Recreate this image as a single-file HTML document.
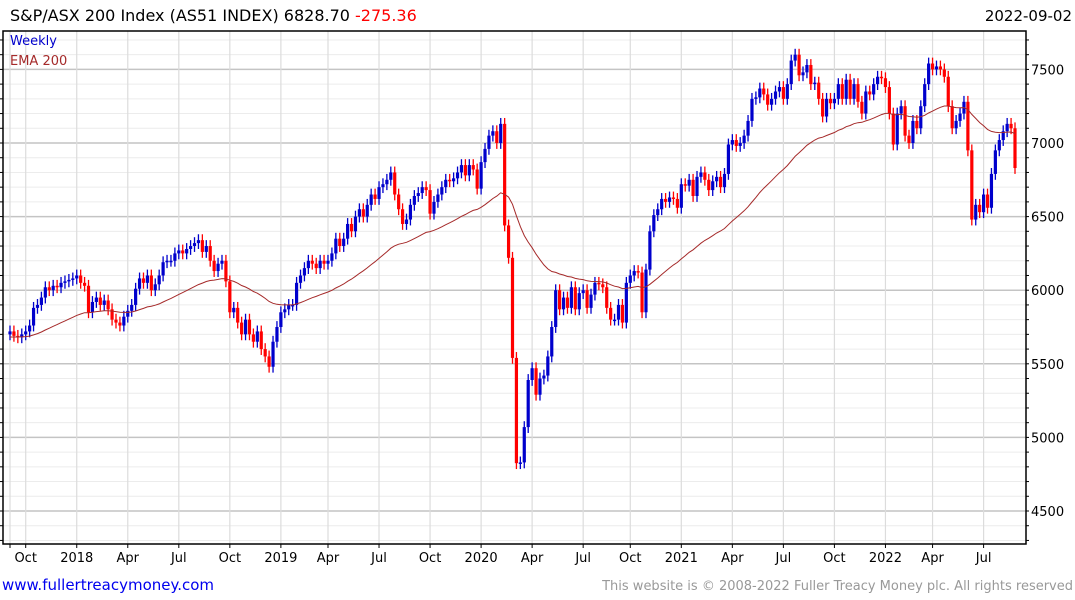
<!DOCTYPE html>
<html><head><meta charset="utf-8"><style>
html,body{margin:0;padding:0;background:#fff;width:1075px;height:600px;overflow:hidden}
svg{display:block;font-family:"DejaVu Sans","Liberation Sans",sans-serif}
</style></head><body>
<svg id="chart" width="1075" height="600" viewBox="0 0 1075 600" xmlns="http://www.w3.org/2000/svg">
<text x="10" y="21" font-size="16" fill="#000">S&amp;P/ASX 200 Index (AS51 INDEX) 6828.70 <tspan fill="#ff0000">-275.36</tspan></text>
<text x="1072" y="21" font-size="15" fill="#000" text-anchor="end">2022-09-02</text>
<g id="grid"></g>
<g id="candles"></g>
<path id="ema" fill="none" stroke="#a52a2a" stroke-width="1"></path>
<g id="axes"></g>
<text x="10" y="45" font-size="13" fill="#0000cc">Weekly</text>
<text x="10" y="65" font-size="13" fill="#a52a2a">EMA 200</text>
<text x="2" y="590" font-size="15" fill="#0000ee">www.fullertreacymoney.com</text>
<text x="1073" y="590" font-size="13" fill="#999" text-anchor="end">This website is © 2008-2022 Fuller Treacy Money plc. All rights reserved</text>
</svg>
<script>
const closes = [5720,5690,5680,
5700,5720,5760,5880,5900,5950,6020,6000,6030,6020,6050,6060,6070,
6080,6100,6050,6030,5850,5920,5950,5900,5930,5870,5800,5780,5760,
5820,5860,5900,6010,6080,6050,6100,6000,6040,6100,6190,6200,6200,
6250,6270,6250,6280,6300,6320,6340,6260,6300,6200,6130,6180,6200,
6060,5850,5880,5780,5700,5800,5700,5650,5720,5600,5550,5480,5650,
5750,5850,5870,5900,5900,6050,6100,6150,6200,6180,6150,6200,6180,
6200,6250,6350,6300,6350,6450,6400,6500,6550,6500,6580,6650,6620,
6700,6720,6750,6800,6650,6550,6450,6480,6580,6640,6660,6700,6680,
6520,6600,6650,6700,6750,6740,6760,6800,6850,6780,6850,6820,6690,
6870,6960,7050,7080,7000,7130,6440,6220,5540,4825,4830,5070,5390,
5470,5290,5400,5420,5550,5750,6000,5870,5950,5880,6020,5870,5980,
6000,5880,5970,6050,6040,6020,5880,5800,5800,5900,5780,6050,
6100,6130,6120,5850,6140,6400,6510,6550,6620,6600,6630,6620,6560,
6720,6710,6750,6640,6770,6800,6750,6680,6740,6770,6700,6790,6990,
7020,6980,7000,7050,7150,7300,7310,7370,7330,7260,7300,7350,7380,
7300,7400,7560,7600,7460,7480,7530,7400,7410,7300,7180,7300,7270,
7300,7400,7300,7430,7300,7400,7280,7200,7350,7330,7400,7450,7440,
7380,7200,6990,7200,7250,7050,7000,7150,7100,7250,7400,7540,7500,
7520,7500,7450,7250,7100,7150,7200,7280,6950,6480,6580,6530,6650,
6560,6790,6950,7020,7080,7130,7100,6830];
const firstOpen = 5700;
const emaSeed = 5680;
const yTicks = [4500,5000,5500,6000,6500,7000,7500];
const xTickLabels = ["Oct","2018","Apr","Jul","Oct","2019","Apr","Jul","Oct","2020","Apr","Jul","Oct","2021","Apr","Jul","Oct","2022","Apr","Jul"];
const xTickWeeks = [4,17,30,43,56,69,81,94,107,120,133,146,158,171,184,197,210,223,235,248];

const NS="http://www.w3.org/2000/svg";
const L=3,R=1026,T=31,B=544;
const X0=10,X1=1015;
function xs(i){return X0+i*(X1-X0)/(closes.length-1);}
function ys(v){return 143-(v-7000)*0.1472;}
function mk(tag,attrs,parent){const e=document.createElementNS(NS,tag);for(const k in attrs)e.setAttribute(k,attrs[k]);parent.appendChild(e);return e;}
const grid=document.getElementById('grid'),cg=document.getElementById('candles'),ax=document.getElementById('axes');
for(let v=4300;v<=7700;v+=100){const y=ys(v);if(y<T||y>B)continue;
 const major=v%500===0;
 const l=mk('line',{x1:L,x2:R,y1:y,y2:y,stroke:major?'#c4c4c4':'#ececec','stroke-width':major?1.5:1},grid);
 
 
}
xTickWeeks.forEach((w,k)=>{const x=xs(w);
 const l=mk('line',{x1:x,x2:x,y1:T,y2:B,stroke:'#dcdcdc','stroke-width':1.2},grid);
 
 
 const t=mk('text',{x:x,y:562,'font-size':13,'text-anchor':'middle',fill:'#000'},ax);
 t.textContent=xTickLabels[k];
 
 
});
const vl=mk('line',{x1:10,x2:10,y1:T,y2:B,stroke:'#dcdcdc','stroke-width':1.2},grid);


let prev=firstOpen;
closes.forEach((c,i)=>{const o=prev;prev=c;const x=xs(i);
 const up=c>=o,col=up?'#0000cc':'#ff0000';
 const hi=Math.max(o,c)+40,lo=Math.min(o,c)-40;
 const w=mk('line',{x1:x,x2:x,y1:ys(hi),y2:ys(lo),stroke:col,'stroke-width':1.3},cg);
 
 
 const top=ys(Math.max(o,c)),bh=Math.max(1.5,ys(Math.min(o,c))-top);
 const b=mk('rect',{x:x-1.6,y:top,width:3.2,height:bh,fill:col},cg);
 
 
});
let e=emaSeed;const a=2/45;let d='';
closes.forEach((c,i)=>{e=e+a*(c-e);d+=(i?'L':'M')+xs(i).toFixed(1)+','+ys(e).toFixed(1);});
document.getElementById('ema').setAttribute('d',d);
mk('path',{d:`M${L},${T}L${R},${T}L${R},${B}L${L},${B}Z`,fill:'none',stroke:'#000','stroke-width':1.5},ax);
for(let v=4300;v<=7700;v+=100){const y=ys(v);if(y<T||y>B)continue;
 mk('line',{x1:R,x2:R+3,y1:y,y2:y,stroke:'#000'},ax);
 mk('line',{x1:L,x2:L-3,y1:y,y2:y,stroke:'#000'},ax);}
yTicks.forEach(v=>{const t=mk('text',{x:1031,y:ys(v)+5,'font-size':13,fill:'#000'},ax);
 t.textContent=v;
 
 
});
xTickWeeks.forEach(w=>{const x=xs(w);mk('line',{x1:x,x2:x,y1:B,y2:B+4,stroke:'#000'},ax);});
mk('line',{x1:10,x2:10,y1:B,y2:B+4,stroke:'#000'},ax);
</script>
</body></html>
